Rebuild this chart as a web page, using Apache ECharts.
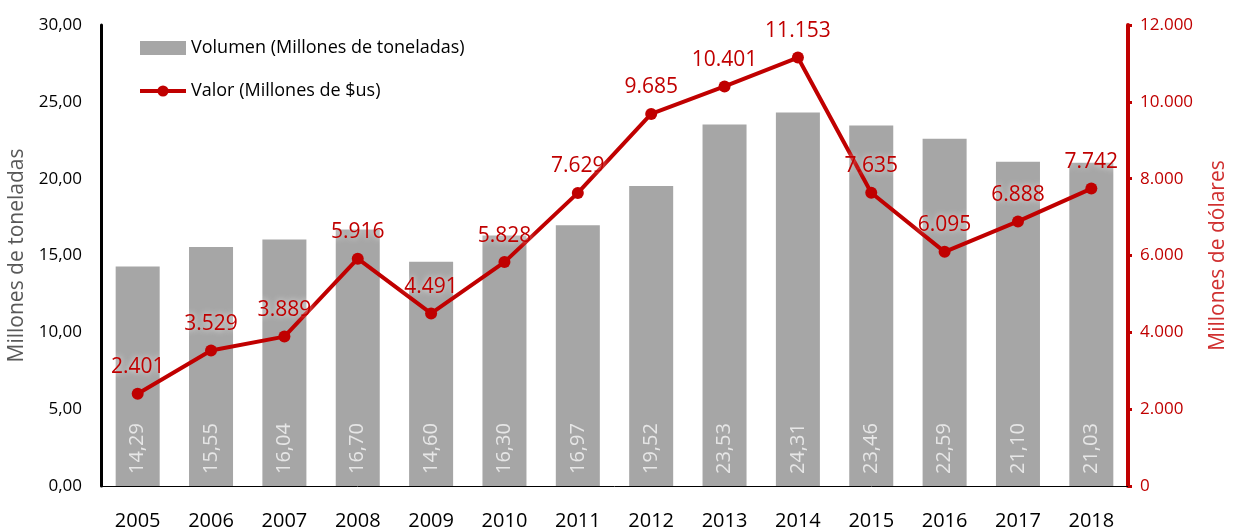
<!DOCTYPE html>
<html>
<head>
<meta charset="utf-8">
<script src="https://cdn.jsdelivr.net/npm/echarts@6/dist/echarts.min.js"></script>
<style>
  html, body { margin: 0; padding: 0; background: #fff; }
  #chart { width: 1236px; height: 531px; }
</style>
</head>
<body>
<div id="chart"></div>
<script>
const years = ['2005', '2006', '2007', '2008', '2009', '2010', '2011', '2012', '2013', '2014', '2015', '2016', '2017', '2018'];
const volumen = [14.29, 15.55, 16.04, 16.70, 14.60, 16.30, 16.97, 19.52, 23.53, 24.31, 23.46, 22.59, 21.10, 21.03];
const valor = [2401, 3529, 3889, 5916, 4491, 5828, 7629, 9685, 10401, 11153, 7635, 6095, 6888, 7742];

const FONT = '"Open Sans", "Noto Sans", sans-serif';
const RED = '#c00000';

// formato es: coma decimal, punto de miles
const fmtDec = (v) => v.toFixed(2).replace('.', ',');
const fmtMiles = (v) => String(Math.round(v)).replace(/\B(?=(\d{3})+(?!\d))/g, '.');

const chart = echarts.init(document.getElementById('chart'));

const option = {
  animation: false,
  textStyle: { fontFamily: FONT },
  grid: { left: 101, right: 108, top: 25, bottom: 45, outerBoundsMode: 'none' },
  legend: {
    orient: 'vertical',
    left: 133,
    top: 34,
    itemGap: 25,
    itemWidth: 46,
    itemHeight: 14,
    textStyle: { fontSize: 18, color: '#000', fontFamily: FONT },
    data: [
      { name: 'Volumen (Millones de toneladas)', icon: 'rect' },
      { name: 'Valor (Millones de $us)', lineStyle: { width: 4 } }
    ]
  },
  xAxis: {
    type: 'category',
    data: years,
    axisLine: { lineStyle: { color: '#000', width: 1 } },
    axisTick: { show: false },
    axisLabel: { color: '#000', fontSize: 20, margin: 25, fontFamily: FONT }
  },
  yAxis: [
    {
      type: 'value',
      min: 0,
      max: 30,
      interval: 5,
      name: 'Millones de toneladas',
      nameLocation: 'middle',
      nameGap: 70,
      nameTextStyle: { color: '#595959', fontSize: 21, fontFamily: FONT },
      axisLine: { show: true, lineStyle: { color: '#000', width: 3 } },
      axisTick: { show: false },
      splitLine: { show: false },
      axisLabel: { color: '#000', fontSize: 17, margin: 19, formatter: fmtDec }
    },
    {
      type: 'value',
      min: 0,
      max: 12000,
      interval: 2000,
      position: 'right',
      name: 'Millones de dólares',
      nameLocation: 'middle',
      nameGap: 80,
      nameRotate: 90,
      nameTextStyle: { color: '#d03030', fontSize: 21, fontFamily: FONT },
      axisLine: { show: true, lineStyle: { color: RED, width: 4 } },
      axisTick: { show: true, length: 4, lineStyle: { color: RED, width: 3 } },
      splitLine: { show: false },
      axisLabel: { color: RED, fontSize: 17, margin: 12, formatter: fmtMiles }
    }
  ],
  series: [
    {
      name: 'Volumen (Millones de toneladas)',
      type: 'bar',
      data: volumen,
      barWidth: '60%',
      itemStyle: { color: '#a6a6a6' },
      label: {
        show: true,
        position: 'insideBottom',
        rotate: 90,
        align: 'left',
        verticalAlign: 'middle',
        distance: 12,
        color: '#e6e6e6',
        fontSize: 20,
        fontFamily: FONT,
        formatter: (p) => fmtDec(p.value)
      }
    },
    {
      name: 'Valor (Millones de $us)',
      type: 'line',
      yAxisIndex: 1,
      data: valor,
      symbol: 'circle',
      symbolSize: 12,
      lineStyle: { color: RED, width: 4 },
      itemStyle: { color: RED },
      label: {
        show: true,
        position: 'top',
        distance: 10,
        color: RED,
        fontSize: 21,
        fontFamily: FONT,
        textShadowColor: 'rgba(255,255,255,0.9)',
        textShadowBlur: 6,
        formatter: (p) => fmtMiles(p.value)
      }
    }
  ]
};

chart.setOption(option);
</script>
</body>
</html>
